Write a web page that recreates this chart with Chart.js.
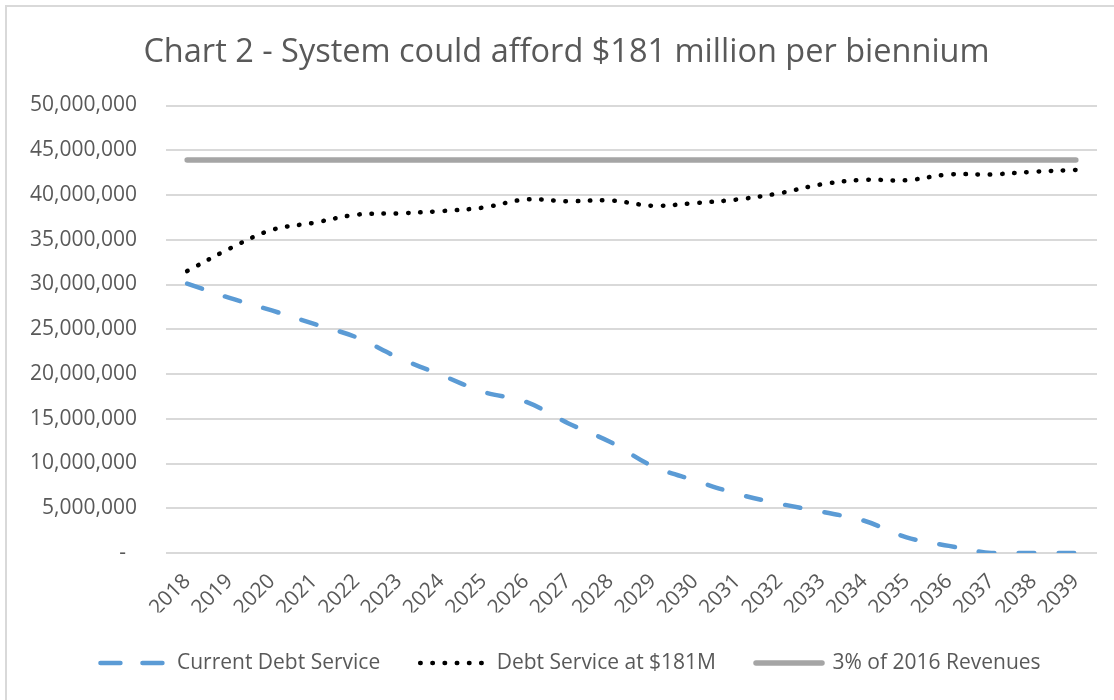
<!DOCTYPE html>
<html>
<head>
<meta charset="utf-8">
<title>Chart 2 - Debt Service</title>
<script src="https://cdn.jsdelivr.net/npm/chart.js@4.4.1/dist/chart.umd.min.js"></script>
<style>
  html, body { margin: 0; padding: 0; background: #fff; overflow: hidden; }
  #wrap { position: relative; width: 1114px; height: 700px; }
  #frame { position: absolute; left: 5px; top: 5px; width: 1200px; height: 800px; border: 2px solid #d9d9d9; pointer-events: none; }
</style>
</head>
<body>
<div id="wrap">
  <canvas id="debtChart" width="1114" height="700"></canvas>
  <div id="frame"></div>
</div>
<script>
// fiscal years on the x axis
const years = ["2018", "2019", "2020", "2021", "2022", "2023", "2024", "2025", "2026", "2027", "2028",
  "2029", "2030", "2031", "2032", "2033", "2034", "2035", "2036", "2037", "2038", "2039"];

// existing debt service schedule
const currentDebt = [30100000, 28500000, 27100000, 25600000, 24100000, 21800000, 19900000, 18000000,
  16900000, 14500000, 12400000, 9700000, 8100000, 6600000, 5500000, 4600000, 3600000, 1750000,
  800000, 0, 0, 0];

// debt service if $181M is issued each biennium
const debtAt181M = [31500000, 34000000, 36100000, 36900000, 37800000, 37950000, 38200000, 38600000,
  39500000, 39300000, 39400000, 38800000, 39100000, 39500000, 40200000, 41200000, 41700000, 41650000,
  42300000, 42300000, 42600000, 42800000];

// 3% of 2016 revenues, flat
const revenueLimit = [43900000, 43900000, 43900000, 43900000, 43900000, 43900000, 43900000, 43900000,
  43900000, 43900000, 43900000, 43900000, 43900000, 43900000, 43900000, 43900000, 43900000, 43900000,
  43900000, 43900000, 43900000, 43900000];

const yTicks = { min: 0, max: 50000000, step: 5000000 };

Chart.defaults.font.family = "'Open Sans', sans-serif";
Chart.defaults.color = "#595959";

const legendDash = [[20, 22], [0.5, 11.7], []];

// title and legend sit centred on the whole frame, a bit right of the plot's centre
const nudgeBoxes = {
  id: "nudgeBoxes",
  afterLayout: function (chart) {
    chart.legend.left += 7;
    chart.legend.right += 7;
    chart.titleBlock.left += 3;
    chart.titleBlock.right += 3;
  }
};

const data = {
  labels: years,
  datasets: [
    {
      label: "Current Debt Service",
      data: currentDebt,
      borderColor: "#5b9bd5",
      backgroundColor: "#5b9bd5",
      borderWidth: 4.5,
      borderDash: [15.5, 24.5],
      borderCapStyle: "round",
      tension: 0.35,
      pointRadius: 0
    },
    {
      label: "Debt Service at $181M",
      data: debtAt181M,
      borderColor: "#000000",
      backgroundColor: "#000000",
      borderWidth: 4.5,
      borderDash: [0.5, 11.7],
      borderCapStyle: "round",
      tension: 0.35,
      pointRadius: 0
    },
    {
      label: "3% of 2016 Revenues",
      data: revenueLimit,
      borderColor: "#a5a5a5",
      backgroundColor: "#a5a5a5",
      borderWidth: 5.5,
      borderCapStyle: "round",
      tension: 0,
      pointRadius: 0
    }
  ]
};

const config = {
  type: "line",
  data: data,
  plugins: [nudgeBoxes],
  options: {
    responsive: false,
    animation: false,
    devicePixelRatio: 1,
    layout: {
      padding: { left: 30, right: 17, top: 23, bottom: 16.5 }
    },
    plugins: {
      title: {
        display: true,
        text: "Chart 2 - System could afford $181 million per biennium",
        color: "#595959",
        font: { size: 32.5, weight: "normal" },
        padding: { top: 10, bottom: 33.5 }
      },
      legend: {
        position: "bottom",
        labels: {
          usePointStyle: true,
          pointStyle: "line",
          pointStyleWidth: 66,
          padding: 40,
          font: { size: 21 },
          color: "#595959",
          generateLabels: function (chart) {
            return chart.data.datasets.map(function (ds, i) {
              return {
                text: ds.label,
                fillStyle: ds.borderColor,
                strokeStyle: ds.borderColor,
                lineWidth: ds.borderWidth,
                lineDash: legendDash[i],
                lineCap: "round",
                pointStyle: "line",
                fontColor: "#595959",
                hidden: false,
                datasetIndex: i
              };
            });
          }
        }
      },
      tooltip: { enabled: false }
    },
    scales: {
      x: {
        offset: true,
        grid: { display: false },
        border: { display: false },
        afterFit: function (scale) {
          scale.height = 59.5;
        },
        ticks: {
          minRotation: 45,
          maxRotation: 45,
          padding: 8,
          autoSkip: false,
          font: { size: 21 },
          color: "#595959"
        }
      },
      y: {
        min: yTicks.min,
        max: yTicks.max,
        grid: { color: "#d9d9d9", lineWidth: 2, drawTicks: false },
        border: { display: false },
        afterFit: function (scale) {
          scale.width = 136;
        },
        ticks: {
          stepSize: yTicks.step,
          padding: 29,
          font: { size: 21 },
          color: "#595959",
          callback: function (value) {
            if (value === 0) return "-  ";
            return value.toLocaleString("en-US");
          }
        }
      }
    }
  }
};

const debtChart = new Chart(document.getElementById("debtChart"), config);
</script>
</body>
</html>
